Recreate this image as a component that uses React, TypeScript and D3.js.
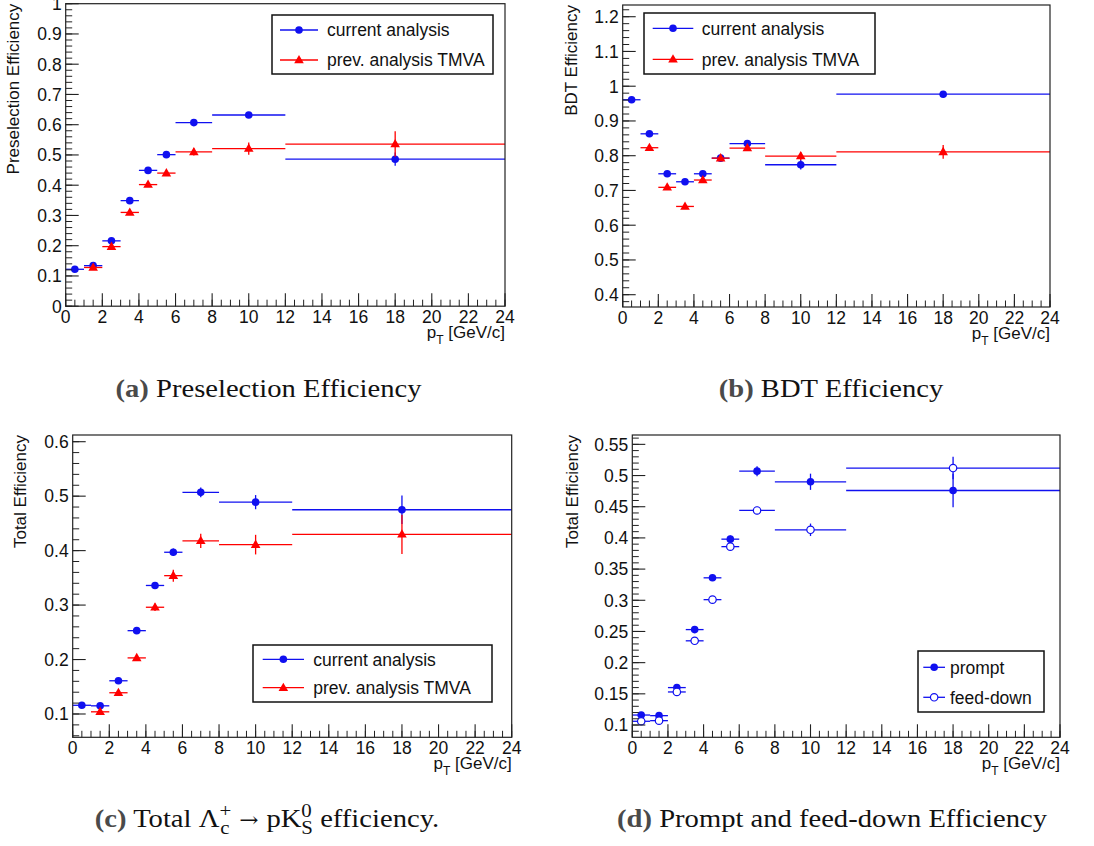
import React from 'react';
import * as d3 from 'd3';

// pT binning shared by all four efficiency plots (GeV/c)
const binEdges = [0, 1, 2, 3, 4, 5, 6, 8, 12, 24];

// (a) preselection efficiency
const preselCurrent = [0.122, 0.134, 0.216, 0.349, 0.449, 0.501, 0.607, 0.632, 0.486];
const preselCurrentErr = [0.003, 0.003, 0.004, 0.004, 0.004, 0.005, 0.006, 0.008, 0.022];
const preselPrev = [0.128, 0.197, 0.31, 0.402, 0.44, 0.51, 0.521, 0.536];
const preselPrevErr = [0.004, 0.005, 0.006, 0.006, 0.008, 0.012, 0.02, 0.042];

// (b) BDT efficiency
const bdtCurrent = [0.961, 0.863, 0.748, 0.725, 0.748, 0.793, 0.835, 0.774, 0.977];
const bdtCurrentErr = [0.004, 0.004, 0.004, 0.004, 0.004, 0.005, 0.006, 0.014, 0.009];
const bdtPrev = [0.823, 0.709, 0.654, 0.73, 0.793, 0.822, 0.799, 0.811];
const bdtPrevErr = [0.004, 0.005, 0.005, 0.005, 0.006, 0.007, 0.012, 0.02];

// (c) total Lambda_c -> p K0s efficiency
const totalCurrent = [0.116, 0.115, 0.161, 0.253, 0.336, 0.397, 0.507, 0.489, 0.475];
const totalCurrentErr = [0.002, 0.002, 0.003, 0.004, 0.005, 0.007, 0.009, 0.013, 0.026];
const totalPrev = [0.104, 0.139, 0.203, 0.296, 0.354, 0.418, 0.411, 0.43];
const totalPrevErr = [0.003, 0.004, 0.005, 0.007, 0.011, 0.013, 0.018, 0.036];

// (d) prompt vs feed-down
const promptEff = [0.116, 0.115, 0.16, 0.253, 0.336, 0.398, 0.507, 0.49, 0.476];
const promptErr = [0.002, 0.002, 0.003, 0.004, 0.004, 0.006, 0.008, 0.013, 0.027];
const feedDownEff = [0.106, 0.107, 0.153, 0.235, 0.301, 0.386, 0.444, 0.413, 0.512];
const feedDownErr = [0.002, 0.002, 0.003, 0.004, 0.004, 0.005, 0.006, 0.01, 0.018];

const xTickMax = 24;

const BLUE = '#1010f0';
const RED = '#ff0000';
const SANS = '"Liberation Sans", Arial, Helvetica, sans-serif';
const SERIF = '"Liberation Serif", "Times New Roman", serif';

type MarkerKind = 'circle' | 'openCircle' | 'triangle';

interface Series {
  values: number[];
  errors: number[];
  firstBin: number;
  color: string;
  marker: MarkerKind;
  label: string;
}

interface PanelCfg {
  frame: { l: number; r: number; t: number; b: number };
  yDomain: [number, number];
  yMajor: number;
  yMinor: number;
  yTitle: string;
  yTitleX: number;
  series: Series[];
  legend: {
    box: { x: number; y: number; w: number; h: number };
    rows: number[];
    line: [number, number];
    textX: number;
  };
}

const stepTicks = (lo: number, hi: number, step: number) => {
  const a = Math.ceil(lo / step - 1e-6);
  const b = Math.floor(hi / step + 1e-6);
  return d3.range(a, b + 1).map((i) => +(i * step).toFixed(6));
};

const fmt = (v: number) => String(+v.toFixed(4));

function Marker({ kind, cx, cy, color }: { kind: MarkerKind; cx: number; cy: number; color: string }) {
  if (kind === 'circle') return <circle cx={cx} cy={cy} r={3.8} fill={color} />;
  if (kind === 'openCircle')
    return <circle cx={cx} cy={cy} r={3.7} fill="#fff" stroke={color} strokeWidth={1.2} />;
  const path = d3.symbol(d3.symbolTriangle, 40)() as string;
  return <path d={path} transform={`translate(${cx},${cy + 0.5})`} fill={color} />;
}

function Panel({ cfg }: { cfg: PanelCfg }) {
  const { frame } = cfg;
  const x = d3.scaleLinear().domain([0, xTickMax]).range([frame.l, frame.r]);
  const y = d3.scaleLinear().domain(cfg.yDomain).range([frame.b, frame.t]);
  const yMaj = stepTicks(cfg.yDomain[0], cfg.yDomain[1], cfg.yMajor);
  const yMin = stepTicks(cfg.yDomain[0], cfg.yDomain[1], cfg.yMinor);
  const xMaj = stepTicks(0, xTickMax, 2);
  const xMin = stepTicks(0, xTickMax, 0.5);
  const majLen = 13;
  const minLen = 6.5;
  const axisColor = '#222';

  return (
    <g>
      {/* data */}
      {cfg.series.map((s, si) => (
        <g key={si}>
          {s.values.map((v, i) => {
            const bin = s.firstBin + i;
            const x0 = binEdges[bin];
            const x1 = binEdges[bin + 1];
            const xc = (x0 + x1) / 2;
            const e = s.errors[i];
            return (
              <g key={i}>
                <line x1={x(x0)} x2={x(x1)} y1={y(v)} y2={y(v)} stroke={s.color} strokeWidth={1.3} />
                <line x1={x(xc)} x2={x(xc)} y1={y(v - e)} y2={y(v + e)} stroke={s.color} strokeWidth={1.3} />
                <Marker kind={s.marker} cx={x(xc)} cy={y(v)} color={s.color} />
              </g>
            );
          })}
        </g>
      ))}

      {/* frame */}
      <rect
        x={frame.l}
        y={frame.t}
        width={frame.r - frame.l}
        height={frame.b - frame.t}
        fill="none"
        stroke={axisColor}
        strokeWidth={1.2}
      />

      {/* y axis */}
      {yMin.map((t) => (
        <line key={'ym' + t} x1={frame.l} x2={frame.l + minLen} y1={y(t)} y2={y(t)} stroke={axisColor} strokeWidth={1} />
      ))}
      {yMaj.map((t) => (
        <g key={'yM' + t}>
          <line x1={frame.l} x2={frame.l + majLen} y1={y(t)} y2={y(t)} stroke={axisColor} strokeWidth={1.1} />
          <text
            x={frame.l - 4}
            y={y(t)}
            dy="0.36em"
            textAnchor="end"
            fontFamily={SANS}
            fontSize={17.5}
            fill="#111"
          >
            {fmt(t)}
          </text>
        </g>
      ))}

      {/* x axis */}
      {xMin.map((t) => (
        <line key={'xm' + t} x1={x(t)} x2={x(t)} y1={frame.b} y2={frame.b - minLen} stroke={axisColor} strokeWidth={1} />
      ))}
      {xMaj.map((t) => (
        <g key={'xM' + t}>
          <line x1={x(t)} x2={x(t)} y1={frame.b} y2={frame.b - majLen} stroke={axisColor} strokeWidth={1.1} />
          <text x={x(t)} y={frame.b + 17} textAnchor="middle" fontFamily={SANS} fontSize={17.5} fill="#111">
            {fmt(t)}
          </text>
        </g>
      ))}

      {/* axis titles */}
      <text x={frame.r} y={frame.b + 32} textAnchor="end" fontFamily={SANS} fontSize={17} fill="#111">
        <tspan>p</tspan>
        <tspan dy={6} fontSize={12}>T</tspan>
        <tspan dy={-6}>{' [GeV/c]'}</tspan>
      </text>
      <text
        transform={`translate(${cfg.yTitleX},${frame.t}) rotate(-90)`}
        textAnchor="end"
        fontFamily={SANS}
        fontSize={17}
        fill="#111"
      >
        {cfg.yTitle}
      </text>

      {/* legend */}
      <rect
        x={cfg.legend.box.x}
        y={cfg.legend.box.y}
        width={cfg.legend.box.w}
        height={cfg.legend.box.h}
        fill="#fff"
        stroke="#111"
        strokeWidth={1.5}
      />
      {cfg.series.map((s, si) => {
        const ry = cfg.legend.rows[si];
        const [lx0, lx1] = cfg.legend.line;
        return (
          <g key={'lg' + si}>
            <line x1={lx0} x2={lx1} y1={ry} y2={ry} stroke={s.color} strokeWidth={1.3} />
            <Marker kind={s.marker} cx={(lx0 + lx1) / 2} cy={ry} color={s.color} />
            <text x={cfg.legend.textX} y={ry} dy="0.36em" fontFamily={SANS} fontSize={17.5} fill="#111">
              {s.label}
            </text>
          </g>
        );
      })}
    </g>
  );
}

const panels: PanelCfg[] = [
  {
    frame: { l: 65.7, r: 505, t: 3.7, b: 306.2 },
    yDomain: [0, 1],
    yMajor: 0.1,
    yMinor: 0.02,
    yTitle: 'Preselection Efficiency',
    yTitleX: 19,
    series: [
      { values: preselCurrent, errors: preselCurrentErr, firstBin: 0, color: BLUE, marker: 'circle', label: 'current analysis' },
      { values: preselPrev, errors: preselPrevErr, firstBin: 1, color: RED, marker: 'triangle', label: 'prev. analysis TMVA' },
    ],
    legend: { box: { x: 272, y: 15, w: 221, h: 59 }, rows: [30, 60], line: [280, 318], textX: 327 },
  },
  {
    frame: { l: 622.7, r: 1050, t: 5, b: 307 },
    yDomain: [0.3646, 1.2337],
    yMajor: 0.1,
    yMinor: 0.02,
    yTitle: 'BDT Efficiency',
    yTitleX: 577,
    series: [
      { values: bdtCurrent, errors: bdtCurrentErr, firstBin: 0, color: BLUE, marker: 'circle', label: 'current analysis' },
      { values: bdtPrev, errors: bdtPrevErr, firstBin: 1, color: RED, marker: 'triangle', label: 'prev. analysis TMVA' },
    ],
    legend: { box: { x: 644, y: 13, w: 231, h: 61 }, rows: [28.3, 59.3], line: [652.7, 693.3], textX: 701.7 },
  },
  {
    frame: { l: 72.7, r: 511.7, t: 435, b: 737.3 },
    yDomain: [0.0572, 0.6123],
    yMajor: 0.1,
    yMinor: 0.02,
    yTitle: 'Total Efficiency',
    yTitleX: 26,
    series: [
      { values: totalCurrent, errors: totalCurrentErr, firstBin: 0, color: BLUE, marker: 'circle', label: 'current analysis' },
      { values: totalPrev, errors: totalPrevErr, firstBin: 1, color: RED, marker: 'triangle', label: 'prev. analysis TMVA' },
    ],
    legend: { box: { x: 253, y: 645, w: 239, h: 57 }, rows: [659.3, 687.7], line: [262.7, 304], textX: 313.3 },
  },
  {
    frame: { l: 632.3, r: 1060, t: 435, b: 737.3 },
    yDomain: [0.0803, 0.565],
    yMajor: 0.05,
    yMinor: 0.01,
    yTitle: 'Total Efficiency',
    yTitleX: 578,
    series: [
      { values: promptEff, errors: promptErr, firstBin: 0, color: BLUE, marker: 'circle', label: 'prompt' },
      { values: feedDownEff, errors: feedDownErr, firstBin: 0, color: BLUE, marker: 'openCircle', label: 'feed-down' },
    ],
    legend: { box: { x: 918, y: 651, w: 126, h: 61 }, rows: [667.3, 697.3], line: [923.3, 945], textX: 950 },
  },
];

function Tag({ t }: { t: string }) {
  return (
    <tspan fontWeight="bold" fill="#4a4a4a">
      {t}
    </tspan>
  );
}

// captions are drawn at the origin of a horizontally widened group
function Caption({ x, y, children }: { x: number; y: number; children: React.ReactNode }) {
  return (
    <g transform={`translate(${x},${y}) scale(1.1,1)`}>
      <text x={0} y={0} textAnchor="middle" fontFamily={SERIF} fontSize={26} fill="#111">
        {children}
      </text>
    </g>
  );
}

export default function App() {
  return (
    <svg
      width={1094}
      height={846}
      viewBox="0 0 1094 846"
      style={{ position: 'absolute', left: 0, top: 0, background: '#fff' }}
    >
      <rect width={1094} height={846} fill="#fff" />
      {panels.map((p, i) => (
        <Panel key={i} cfg={p} />
      ))}

      {/* sub-figure captions */}
      <Caption x={268.5} y={397}>
        <Tag t="(a)" />
        {' Preselection Efficiency'}
      </Caption>
      <Caption x={831} y={397}>
        <Tag t="(b)" />
        {' BDT Efficiency'}
      </Caption>
      <Caption x={267} y={827}>
        <Tag t="(c)" />
        <tspan>{' Total Λ'}</tspan>
        <tspan dy={-10} fontSize={19}>+</tspan>
        <tspan dx={-10} dy={17} fontSize={19}>c</tspan>
        <tspan dx={9} dy={-7} fontFamily='"DejaVu Serif", serif' fontSize={21}>→</tspan>
        <tspan dx={7}>pK</tspan>
        <tspan dy={-10} fontSize={19}>0</tspan>
        <tspan dx={-9.5} dy={17} fontSize={19}>S</tspan>
        <tspan dy={-7}>{' efficiency.'}</tspan>
      </Caption>
      <Caption x={832} y={827}>
        <Tag t="(d)" />
        {' Prompt and feed-down Efficiency'}
      </Caption>
    </svg>
  );
}
